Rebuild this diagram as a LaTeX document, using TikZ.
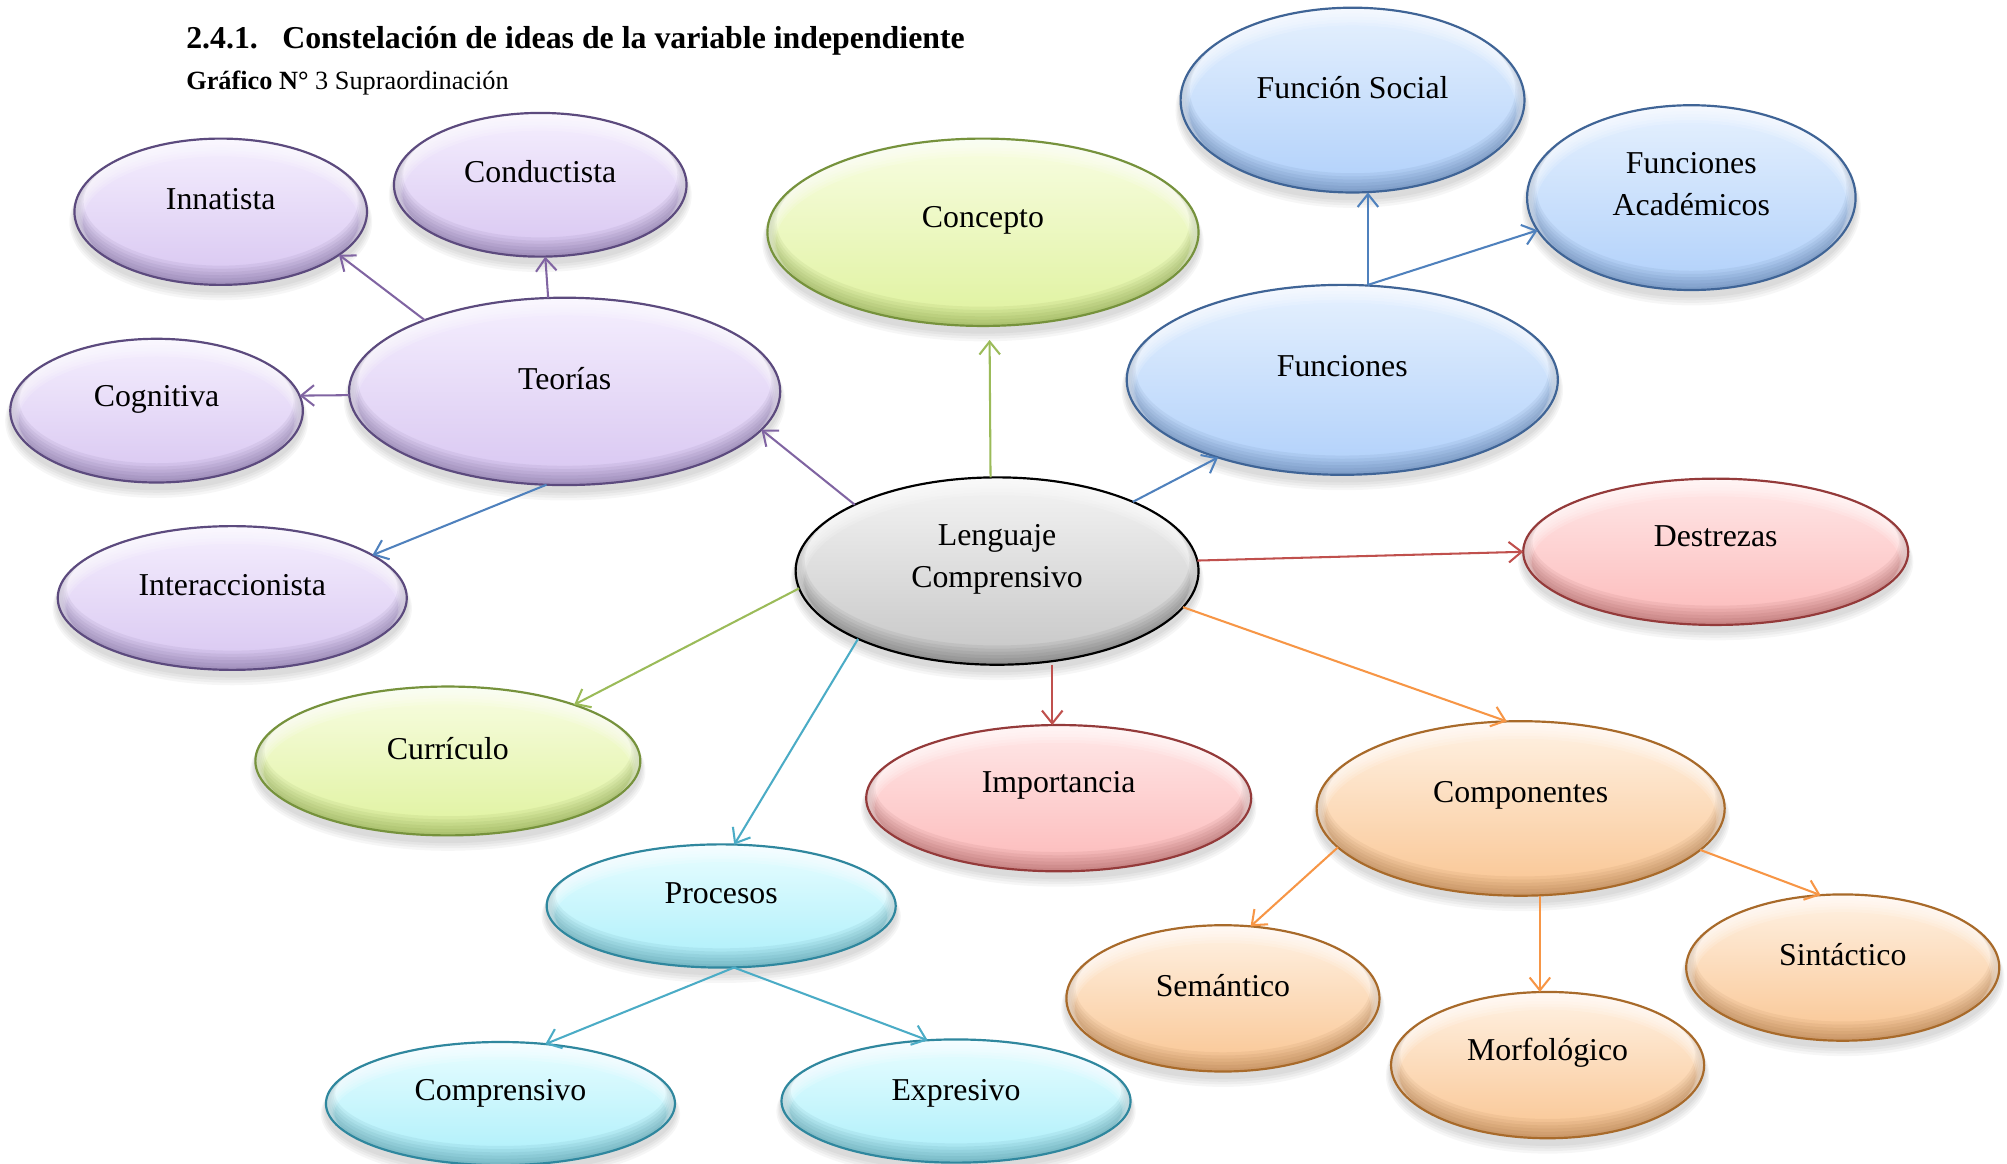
\documentclass[tikz,border=0pt]{standalone}
\usepackage{fontspec}
\setmainfont{Liberation Serif}
\usetikzlibrary{arrows.meta,shapes.geometric}
\definecolor{purtop}{HTML}{F5EFFE}\definecolor{purbot}{HTML}{D8C6F1}\definecolor{purborder}{HTML}{5C4A7E}\definecolor{purdark}{HTML}{4E3F6E}
\definecolor{grytop}{HTML}{F4F4F4}\definecolor{grybot}{HTML}{C6C6C6}\definecolor{gryborder}{HTML}{000000}\definecolor{grydark}{HTML}{404040}
\definecolor{grntop}{HTML}{F8FDE2}\definecolor{grnbot}{HTML}{DFF29E}\definecolor{grnborder}{HTML}{76923C}\definecolor{grndark}{HTML}{5E7A28}
\definecolor{blutop}{HTML}{E6F1FE}\definecolor{blubot}{HTML}{B0D0FA}\definecolor{bluborder}{HTML}{3F6496}\definecolor{bludark}{HTML}{34527E}
\definecolor{redtop}{HTML}{FFE8E8}\definecolor{redbot}{HTML}{FCBABA}\definecolor{redborder}{HTML}{943A3A}\definecolor{reddark}{HTML}{7A3434}
\definecolor{oratop}{HTML}{FFF2E4}\definecolor{orabot}{HTML}{F9C592}\definecolor{oraborder}{HTML}{A86A2A}\definecolor{oradark}{HTML}{85552A}
\definecolor{cyntop}{HTML}{E8FDFF}\definecolor{cynbot}{HTML}{ACEFFA}\definecolor{cynborder}{HTML}{2F879E}\definecolor{cyndark}{HTML}{2A6878}
\definecolor{apur}{HTML}{8064A2}\definecolor{agrn}{HTML}{9BBB59}\definecolor{ablu}{HTML}{4F81BD}
\definecolor{ared}{HTML}{C0504D}\definecolor{aora}{HTML}{F79646}\definecolor{acyn}{HTML}{4BACC6}
\tikzset{
  bubble/.style={ellipse,inner sep=0pt,outer sep=0pt,draw=none},
  pur/.style={top color=purtop,bottom color=purbot},
  gry/.style={top color=grytop,bottom color=grybot},
  grn/.style={top color=grntop,bottom color=grnbot},
  blu/.style={top color=blutop,bottom color=blubot},
  red/.style={top color=redtop,bottom color=redbot},
  ora/.style={top color=oratop,bottom color=orabot},
  cyn/.style={top color=cyntop,bottom color=cynbot},
  txt/.style={font=\fontsize{24.8}{33}\selectfont,align=center,inner sep=0pt},
  conn/.style={line width=1.6pt,-{Straight Barb[length=10pt,width=16pt,line width=1.6pt]}},
  arpur/.style={conn,draw=apur},
  argrn/.style={conn,draw=agrn},
  arblu/.style={conn,draw=ablu},
  arred/.style={conn,draw=ared},
  arora/.style={conn,draw=aora},
  arcyn/.style={conn,draw=acyn},
}
% #1 name, #2 x, #3 y (from top), #4 rx, #5 ry, #6 palette, #7 text, #8 text raise
\newcommand\bub[8]{%
  \foreach \k in {1,...,4}{
    \fill[black,opacity=.035] (#2,-#3-4-\k) ellipse[x radius=#4+\k,y radius=#5+\k];
  }
  \node[bubble,#6,minimum width=2*#4pt,minimum height=2*#5pt] (#1) at (#2,-#3) {};
  \begin{scope}
    \clip (#2,-#3) ellipse[x radius=#4,y radius=#5];
    \foreach \k in {1,...,6}{
      \draw[#6dark,opacity=.075,line width=2.4*\k] (#2,-#3+1.3*\k) ellipse[x radius=#4,y radius=#5];
      \draw[white,opacity=.16,line width=2.2*\k] (#2,-#3-1.2*\k) ellipse[x radius=#4,y radius=#5];
    }
  \end{scope}
  \draw[#6border,line width=1.7pt] (#2,-#3) ellipse[x radius=#4,y radius=#5];
  \node[txt] (#1t) at ([yshift=#8]#1.center) {#7};
}
\begin{document}
\begin{tikzpicture}[x=1pt,y=1pt]
\useasboundingbox[fill=white] (0,0) rectangle (1564,-907);
\node[anchor=base west,inner sep=0pt,font=\fontsize{24.8}{30}\selectfont\bfseries] (title) at (145,-38)
  {2.4.1.\hspace{19pt}Constelación de ideas de la variable independiente};
\node[anchor=base west,inner sep=0pt,font=\fontsize{20.5}{24}\selectfont] (subtitle) at (145,-69.5)
  {\textbf{Gráfico N°} 3 Supraordinación};

\bub{inn}{172}{165}{114}{57}{pur}{Innatista}{10pt}
\bub{con}{421}{144}{114}{56}{pur}{Conductista}{10pt}
\bub{cog}{122}{320}{114}{56}{pur}{Cognitiva}{9pt}
\bub{teo}{440}{305}{168}{73}{pur}{Teorías}{10pt}
\bub{int}{181}{466}{136}{56}{pur}{Interaccionista}{10pt}
\bub{conc}{766}{181}{168}{73}{grn}{Concepto}{9pt}
\bub{fs}{1054}{78}{134}{72}{blu}{Función Social}{10pt}
\bub{fa}{1318}{154}{128}{72}{blu}{Funciones\\Académicos}{10.5pt}
\bub{fun}{1046}{296}{168}{74}{blu}{Funciones}{11pt}
\bub{len}{777}{445}{157}{73}{gry}{Lenguaje\\Comprensivo}{9pt}
\bub{des}{1337}{430}{150}{57}{red}{Destrezas}{12pt}
\bub{cur}{349}{593}{150}{58}{grn}{Currículo}{10pt}
\bub{imp}{825}{622}{150}{57}{red}{Importancia}{10pt}
\bub{comp}{1185}{630}{159}{68}{ora}{Componentes}{10pt}
\bub{pro}{562}{706}{136}{48}{cyn}{Procesos}{10pt}
\bub{sem}{953}{778}{122}{57}{ora}{Semántico}{10pt}
\bub{sin}{1436}{754}{122}{57}{ora}{Sintáctico}{10pt}
\bub{mor}{1206}{830}{122}{57}{ora}{Morfológico}{10pt}
\bub{cmp}{390}{860}{136}{48}{cyn}{Comprensivo}{8pt}
\bub{exp}{745}{858}{136}{48}{cyn}{Expresivo}{6pt}

\draw[arpur] (teo.153.8) -- (inn.340.7);
\draw[arpur] (teo.100) -- (con.274);
\draw[arpur] (teo.181) -- (cog.6);
\draw[arblu] (teo.259.3) -- (int.17.6);
\draw[arpur] (len.155.9) -- (teo.349.7);
\draw[argrn,shorten >=11pt] (len.94.9) -- (conc.274);
\draw[arblu] (len.27) -- (fun.212);
\draw[arblu] ([xshift=20pt]fun.north) -- ([xshift=12pt]fs.south);
\draw[arblu] ([xshift=20pt]fun.north) -- (fa.192);
\draw[arred] (len.3.3) -- (des.180);
\draw[argrn] (len.185.1) -- (cur.24.5);
\draw[arcyn] (len.206) -- (pro.78.5);
\draw[arred] ([xshift=43pt]len.south) -- ([xshift=-5pt]imp.north);
\draw[arora] (len.349.7) -- (comp.99.5);
\draw[arora] (comp.192.2) -- (sem.69.2);
\draw[arora] ([xshift=15pt]comp.south) -- ([xshift=-6pt]mor.north);
\draw[arora] (comp.347.6) -- (sin.107.8);
\draw[arcyn] ([xshift=10pt]pro.south) -- (cmp.53.3);
\draw[arcyn] ([xshift=10pt]pro.south) -- (exp.115);
\end{tikzpicture}
\end{document}
